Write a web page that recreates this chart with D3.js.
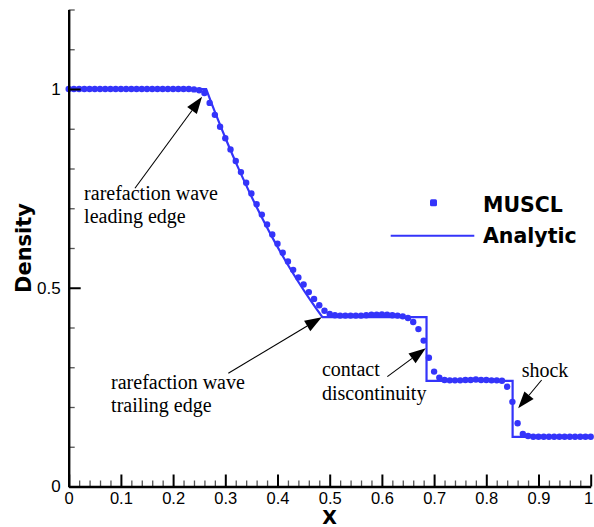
<!DOCTYPE html>
<html>
<head>
<meta charset="utf-8">
<script src="https://cdn.jsdelivr.net/npm/d3@7"></script>
<style>
  html, body { margin: 0; padding: 0; background: #fff; }
  svg { display: block; }
</style>
</head>
<body>
<svg id="chart" width="594" height="527"></svg>
<script>
// MUSCL cell values, one per grid node x = i/100 (i = 0..100)
const muscl = [
  1.000, 1.000, 1.000, 1.000, 1.000, 1.000, 1.000, 1.000, 1.000, 1.000,
  1.000, 1.000, 1.000, 1.000, 1.000, 1.000, 1.000, 1.000, 1.000, 1.000,
  1.000, 1.000, 1.000, 1.000, 0.999, 0.997, 0.990, 0.965, 0.935, 0.905,
  0.876, 0.848, 0.819, 0.791, 0.764, 0.737, 0.710, 0.684, 0.659, 0.634,
  0.611, 0.588, 0.566, 0.545, 0.526, 0.508, 0.489, 0.472, 0.456, 0.442,
  0.434, 0.431, 0.430, 0.430, 0.430, 0.430, 0.430, 0.431, 0.432, 0.432,
  0.433, 0.432, 0.431, 0.430, 0.428, 0.424, 0.414, 0.396, 0.367, 0.324,
  0.289, 0.274, 0.268, 0.267, 0.267, 0.267, 0.268, 0.268, 0.269, 0.268,
  0.268, 0.267, 0.267, 0.266, 0.251, 0.213, 0.159, 0.132, 0.127, 0.125,
  0.125, 0.125, 0.125, 0.125, 0.125, 0.125, 0.125, 0.125, 0.125, 0.125,
  0.125
];
const musclX = muscl.map((_, i) => i / 100);

// Exact Riemann solution (Sod problem, t = 0.2)
const analyticX = [
  0, 0.2634, 0.275, 0.285, 0.295, 0.305, 0.315, 0.325, 0.335, 0.345,
  0.355, 0.365, 0.375, 0.385, 0.395, 0.405, 0.415, 0.425, 0.435, 0.445,
  0.455, 0.465, 0.475, 0.486, 0.6855, 0.6855, 0.8504, 0.8504, 1
];
const analyticRho = [
  1, 1, 0.9597, 0.9261, 0.8934, 0.8617, 0.8309, 0.8010, 0.7719, 0.7437,
  0.7164, 0.6898, 0.6640, 0.6390, 0.6148, 0.5913, 0.5685, 0.5464, 0.5251, 0.5044,
  0.4843, 0.4649, 0.4462, 0.4263, 0.4263, 0.2656, 0.2656, 0.125, 0.125
];

// Axis ticks
const xMajorTicks = [0, 0.1, 0.2, 0.3, 0.4, 0.5, 0.6, 0.7, 0.8, 0.9, 1];
const xTickLabels = ["0", "0.1", "0.2", "0.3", "0.4", "0.5", "0.6", "0.7", "0.8", "0.9", "1"];
const yMajorTicks = [0, 0.5, 1];
const yTickLabels = ["0", "0.5", "1"];
const yMinorTicks = [0.1, 0.2, 0.3, 0.4, 0.6, 0.7, 0.8, 0.9, 1.1, 1.2];

// Callouts: label lines, text anchor, arrow tail and head (data units)
const notes = [
  { lines: ["rarefaction wave", "leading edge"], at: [0.0295, 0.721], from: [0.1269, 0.7502], to: [0.2555, 0.9803] },
  { lines: ["rarefaction wave", "trailing edge"], at: [0.0812, 0.2453], from: [0.3058, 0.2848], to: [0.4848, 0.4258] },
  { lines: ["contact", "discontinuity"], at: [0.4852, 0.2779], from: [0.6104, 0.2763], to: [0.6840, 0.3476] },
  { lines: ["shock"], at: [0.8677, 0.2763], from: [0.9060, 0.2679], to: [0.8610, 0.1967] }
];

const blue = "#3434fa";
const svg = d3.select("#chart");

const x = d3.scaleLinear().domain([0, 1]).range([68.7, 590.7]);
const y = d3.scaleLinear().domain([0, 1.2]).range([486.5, 9.5]);

// Data layers
const line = d3.line().x(d => x(d[0])).y(d => y(d[1])).curve(d3.curveLinear);
svg.append("path")
  .datum(analyticX.map((v, i) => [v, analyticRho[i]]))
  .attr("d", line)
  .attr("fill", "none")
  .attr("stroke", blue)
  .attr("stroke-width", 2.2);

svg.append("g").selectAll("circle")
  .data(musclX.map((v, i) => [v, muscl[i]]))
  .join("circle")
  .attr("cx", d => x(d[0]))
  .attr("cy", d => y(d[1]))
  .attr("r", 3.2)
  .attr("fill", blue);

// Axes with inward ticks
const tickFont = "'Liberation Sans', Arial, sans-serif";

const xMinor = d3.range(0, 101, 2).filter(i => i % 10 !== 0).map(i => i / 100);
svg.append("g")
  .attr("transform", `translate(0,${y(0)})`)
  .call(d3.axisBottom(x).tickValues(xMinor).tickSizeInner(-6).tickSizeOuter(0).tickFormat(""))
  .call(g => g.select(".domain").remove())
  .call(g => g.selectAll("line").attr("stroke", "#555").attr("stroke-width", 1.3));

svg.append("g")
  .attr("transform", `translate(0,${y(0)})`)
  .call(d3.axisBottom(x).tickValues(xMajorTicks).tickSizeInner(-12).tickSizeOuter(0).tickPadding(6)
    .tickFormat((d, i) => xTickLabels[i]))
  .call(g => g.select(".domain").attr("stroke", "#000").attr("stroke-width", 2.4))
  .call(g => g.selectAll("line").attr("stroke", "#000").attr("stroke-width", 2))
  .call(g => g.selectAll("text").attr("font-family", tickFont).attr("font-size", 16.5).attr("fill", "#000"))
  // keep the last label inside the page
  .call(g => g.selectAll("text").filter(d => d === 1).attr("dx", -2.5));

svg.append("g")
  .attr("transform", `translate(${x(0)},0)`)
  .call(d3.axisLeft(y).tickValues(yMinorTicks).tickSizeInner(-6).tickSizeOuter(0).tickFormat(""))
  .call(g => g.select(".domain").remove())
  .call(g => g.selectAll("line").attr("stroke", "#555").attr("stroke-width", 1.3));

svg.append("g")
  .attr("transform", `translate(${x(0)},0)`)
  .call(d3.axisLeft(y).tickValues(yMajorTicks).tickSizeInner(-12).tickSizeOuter(0).tickPadding(8)
    .tickFormat((d, i) => yTickLabels[i]))
  .call(g => g.select(".domain").attr("stroke", "#000").attr("stroke-width", 2.4))
  .call(g => g.selectAll("line").attr("stroke", "#000").attr("stroke-width", 2))
  .call(g => g.selectAll("text").attr("font-family", tickFont).attr("font-size", 17).attr("fill", "#000"));

// Axis titles
const boldFont = "'DejaVu Sans', Verdana, sans-serif";
svg.append("text")
  .attr("x", x(0.5)).attr("y", 524)
  .attr("text-anchor", "middle")
  .attr("font-family", boldFont).attr("font-weight", "bold").attr("font-size", 19)
  .text("X");

svg.append("text")
  .attr("transform", `translate(31,${y(0.6)}) rotate(-90)`)
  .attr("text-anchor", "middle")
  .attr("font-family", boldFont).attr("font-weight", "bold").attr("font-size", 21)
  .text("Density");

// Legend
const legend = svg.append("g");
legend.append("rect")
  .attr("x", 430).attr("y", 199.2).attr("width", 7).attr("height", 7).attr("rx", 1.5)
  .attr("fill", blue);
legend.append("text")
  .attr("x", 483).attr("y", 211.7)
  .attr("font-family", boldFont).attr("font-weight", "bold").attr("font-size", 20.5)
  .text("MUSCL");
legend.append("line")
  .attr("x1", 390.7).attr("x2", 474.3).attr("y1", 235.7).attr("y2", 235.7)
  .attr("stroke", blue).attr("stroke-width", 2);
legend.append("text")
  .attr("x", 483).attr("y", 243.3)
  .attr("font-family", boldFont).attr("font-weight", "bold").attr("font-size", 20.5)
  .text("Analytic");

// Annotations with arrows
const ann = svg.append("g");
notes.forEach(n => {
  const t = ann.append("text")
    .attr("font-family", "'Liberation Serif', 'Times New Roman', serif")
    .attr("font-size", 20)
    .attr("fill", "#000");
  n.lines.forEach((s, i) => {
    t.append("tspan").attr("x", x(n.at[0])).attr("y", y(n.at[1]) + i * 23.5).text(s);
  });

  const x0 = x(n.from[0]), y0 = y(n.from[1]);
  const x1 = x(n.to[0]), y1 = y(n.to[1]);
  const ang = Math.atan2(y1 - y0, x1 - x0);
  const len = 17, half = 6;
  const bx = x1 - len * Math.cos(ang), by = y1 - len * Math.sin(ang);
  ann.append("line")
    .attr("x1", x0).attr("y1", y0).attr("x2", bx).attr("y2", by)
    .attr("stroke", "#000").attr("stroke-width", 1.1);
  const px = -Math.sin(ang), py = Math.cos(ang);
  ann.append("path")
    .attr("d", `M${x1},${y1}L${bx + half * px},${by + half * py}L${bx - half * px},${by - half * py}Z`)
    .attr("fill", "#000");
});
</script>
</body>
</html>
